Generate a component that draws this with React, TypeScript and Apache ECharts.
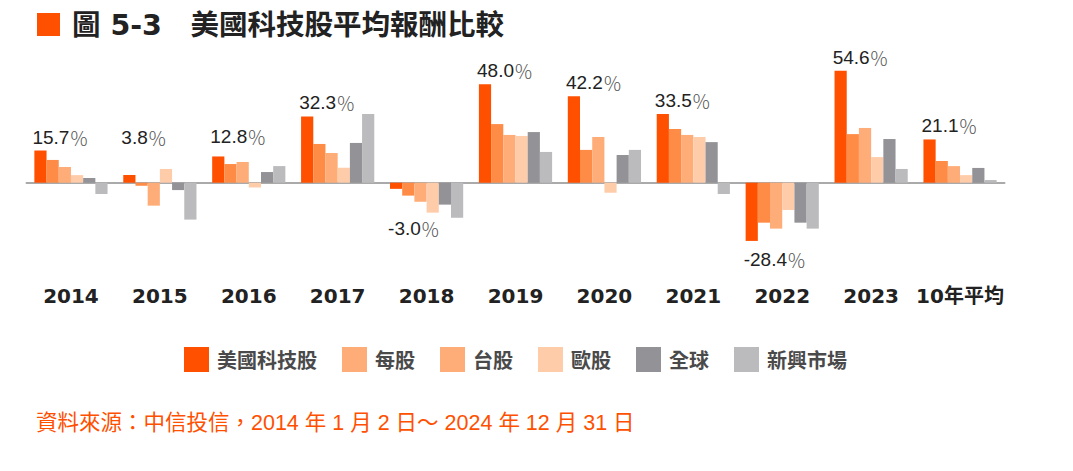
import React, { useEffect, useRef } from "react";
import * as echarts from "echarts";

const categories = ["2014", "2015", "2016", "2017", "2018", "2019", "2020", "2021", "2022", "2023", "10年平均"];
const seriesNames = ["美國科技股", "每股", "台股", "歐股", "全球", "新興市場"];
const usTech = [15.7, 3.8, 12.8, 32.3, -3.0, 48.0, 42.2, 33.5, -28.4, 54.6, 21.1];
const meiGu = [11.1, -1.5, 9.1, 18.9, -6.3, 28.6, 16.0, 26.2, -19.5, 23.7, 10.6];
const taiGu = [7.6, -11.2, 10.1, 14.5, -9.3, 23.3, 22.3, 23.3, -22.4, 26.7, 8.1];
const ouGu = [3.7, 6.7, -2.4, 7.3, -14.6, 22.8, -4.9, 22.3, -13.3, 12.5, 3.7];
const quanQiu = [2.3, -3.6, 5.2, 19.4, -10.7, 24.7, 13.5, 19.8, -19.5, 21.3, 7.2];
const xinXing = [-5.5, -18.0, 8.1, 33.5, -17.1, 15.0, 16.0, -5.5, -22.4, 6.7, 1.3];

const titleText = "圖 5-3　美國科技股平均報酬比較";
const sourceText = "資料來源：中信投信，2014 年 1 月 2 日〜 2024 年 12 月 31 日";

const barColors = ["#FF5000", "#FF8C46", "#FFAD78", "#FFCCAA", "#939397", "#BBBBBD"];
const legendColors = ["#FF5000", "#FFAD78", "#FFAD78", "#FFCCAA", "#939397", "#BBBBBD"];

// label placement tweaks (style only), keyed by category index
const labelTweaks: Record<number, any> = {
  1: { offset: [-8, -24] },
  2: { offset: [-8, -6] },
  4: { position: "bottom", offset: [-8, 26] },
  8: { position: "bottom", offset: [-8, 5] },
};

const LATIN = '"Liberation Sans", "Noto Sans CJK TC", sans-serif';
const WIDE = '"DejaVu Sans", "Noto Sans CJK TC", sans-serif';

export default function App() {
  const ref = useRef<HTMLDivElement>(null);
  useEffect(() => {
    if (!ref.current) return;
    const chart = echarts.init(ref.current, undefined, { renderer: "svg" });
    const allData = [usTech, meiGu, taiGu, ouGu, quanQiu, xinXing];
    const series: any[] = allData.map((vals, si) => {
      const s: any = {
        name: seriesNames[si],
        type: "bar",
        barWidth: 12.2,
        barGap: "0%",
        itemStyle: { color: barColors[si] },
        data: vals.map((v, i) => {
          if (si !== 0) return v;
          const t = labelTweaks[i];
          return t ? { value: v, label: t } : v;
        }),
      };
      if (si === 0) {
        s.label = {
          show: true,
          position: "top",
          distance: 4,
          align: "left",
          offset: [-8, 0],
          formatter: (p: any) => `{v|${Number(p.value).toFixed(1)}}{p|％}`,
          rich: {
            v: { fontSize: 19, fontFamily: LATIN, color: "#222" },
            p: { fontSize: 19, fontFamily: '"Noto Sans CJK TC", sans-serif', fontWeight: 300, color: "#555" },
          },
        };
      }
      return s;
    });
    chart.setOption({
      animation: false,
      backgroundColor: "#ffffff",
      grid: { left: 26.5, right: 68.5, top: 59.7, bottom: 206.3, containLabel: false },
      legend: {
        left: 179,
        top: 342,
        icon: "rect",
        itemWidth: 25,
        itemHeight: 25,
        itemGap: 25,
        selectedMode: false,
        data: seriesNames.map((n, i) => ({ name: n, itemStyle: { color: legendColors[i] } })),
        textStyle: {
          fontSize: 20,
          fontWeight: "bold",
          color: "#4a4a4a",
          fontFamily: '"Noto Sans CJK TC", sans-serif',
          padding: [0, 0, 0, 3],
        },
      },
      xAxis: {
        type: "category",
        data: categories,
        axisLine: { show: true, onZero: true, lineStyle: { color: "#aaaaaa", width: 2 } },
        axisTick: { show: false },
        axisLabel: {
          margin: 21,
          fontSize: 20,
          fontWeight: "bold",
          color: "#222",
          fontFamily: WIDE,
          interval: 0,
        },
      },
      yAxis: {
        type: "value",
        min: -40,
        max: 60,
        show: false,
        splitLine: { show: false },
      },
      graphic: [
        { type: "rect", left: 37, top: 13, shape: { width: 23, height: 23 }, style: { fill: "#FF5000" } },
        {
          type: "text",
          x: 72,
          y: 25,
          style: {
            text: titleText,
            fontSize: 28.5,
            fontWeight: "bold",
            fontFamily: WIDE,
            fill: "#222",
            align: "left",
            verticalAlign: "middle",
          },
        },
        {
          type: "text",
          x: 36,
          y: 423,
          style: {
            text: sourceText,
            fontSize: 21.5,
            fontFamily: LATIN,
            fill: "#FF5000",
            align: "left",
            verticalAlign: "middle",
          },
        },
      ],
      series,
    });
    return () => chart.dispose();
  }, []);
  return (
    <div
      ref={ref}
      style={{ position: "fixed", left: 0, top: 0, width: 1073, height: 471, background: "#fff" }}
    />
  );
}
